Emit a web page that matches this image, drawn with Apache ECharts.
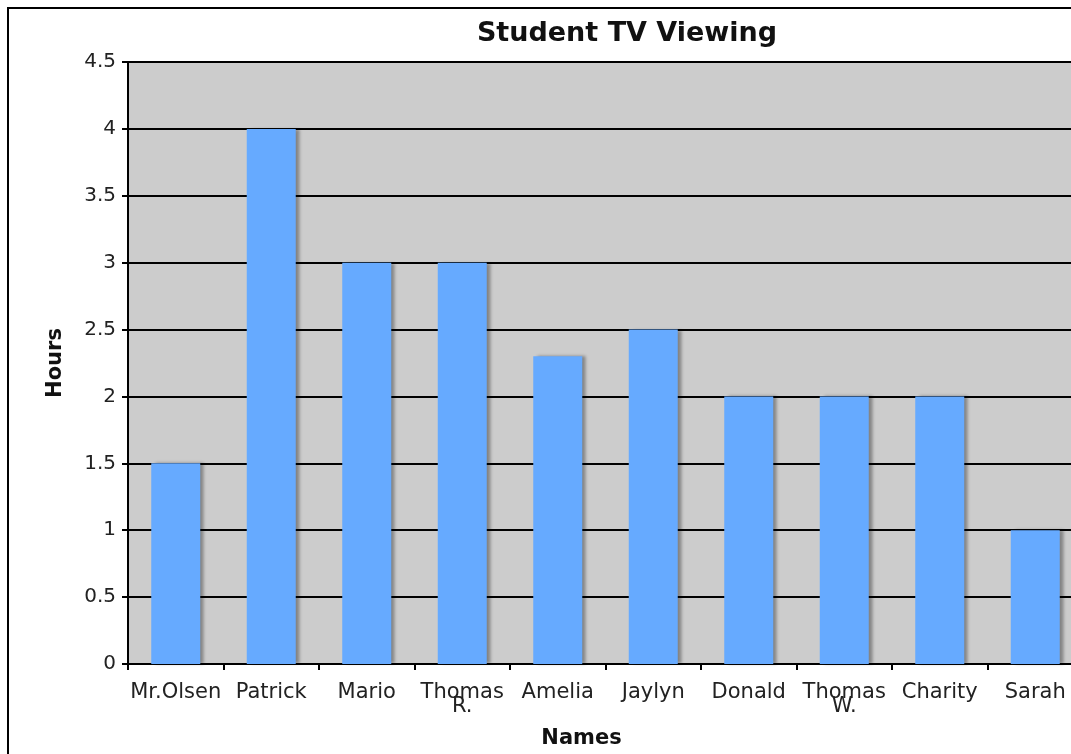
<!DOCTYPE html>
<html><head><meta charset="utf-8">
<script src="https://cdn.jsdelivr.net/npm/echarts@6/dist/echarts.min.js"></script>
<style>html,body{margin:0;padding:0;background:#fff}#c{width:1071px;height:754px}</style>
</head><body><div id="c"></div>
<script>
var names = ['Mr.Olsen', 'Patrick', 'Mario', 'Thomas\nR.', 'Amelia', 'Jaylyn', 'Donald', 'Thomas\nW.', 'Charity', 'Sarah'];
var hours = [1.5, 4, 3, 3, 2.3, 2.5, 2, 2, 2, 1];
var yTicks = [0, 0.5, 1, 1.5, 2, 2.5, 3, 3.5, 4, 4.5];

var chart = echarts.init(document.getElementById('c'));
var font = 'DejaVu Sans, Verdana, sans-serif';
chart.setOption({
  animation: false,
  graphic: [{
    type: 'rect', shape: {x: 8, y: 8, width: 1100, height: 800},
    style: {fill: 'none', stroke: '#000', lineWidth: 2}, silent: true, z: -1
  }],
  title: {
    text: 'Student TV Viewing', left: 622, top: 15, textAlign: 'center',
    textStyle: {fontFamily: font, fontSize: 27, fontWeight: 'bold', color: '#111'}
  },
  grid: {
    left: 128, top: 62, width: 955, height: 602,
    outerBoundsMode: 'none', containLabel: false,
    show: true, backgroundColor: '#cccccc', borderWidth: 0
  },
  xAxis: {
    type: 'category', data: names,
    name: 'Names', nameLocation: 'middle', nameGap: 64,
    nameTextStyle: {fontFamily: font, fontSize: 21, fontWeight: 'bold', color: '#111', padding: [0, 48, 0, 0]},
    axisLine: {lineStyle: {color: '#000', width: 2}},
    axisTick: {show: true, length: 6, lineStyle: {color: '#000', width: 2}},
    axisLabel: {fontFamily: font, fontSize: 21, color: '#222', margin: 22, lineHeight: 14, interval: 0, hideOverlap: false}
  },
  yAxis: {
    type: 'value', min: 0, max: 4.5, interval: 0.5,
    name: 'Hours', nameLocation: 'middle', nameGap: 62, nameRotate: 90,
    nameTextStyle: {fontFamily: font, fontSize: 21, fontWeight: 'bold', color: '#111'},
    axisLine: {show: true, lineStyle: {color: '#000', width: 2}},
    axisTick: {show: true, length: 6, lineStyle: {color: '#000', width: 2}},
    axisLabel: {fontFamily: font, fontSize: 20, color: '#222', margin: 12,
      formatter: function (v) { return yTicks.indexOf(v) >= 0 ? String(v) : ''; }},
    splitLine: {show: true, lineStyle: {color: '#000', width: 2}}
  },
  series: [{
    type: 'bar', data: hours, barWidth: 49,
    itemStyle: {color: '#66aaff', shadowColor: 'rgba(0,0,0,0.35)', shadowOffsetX: 4, shadowOffsetY: 0, shadowBlur: 3}
  }]
});
</script>
</body></html>
